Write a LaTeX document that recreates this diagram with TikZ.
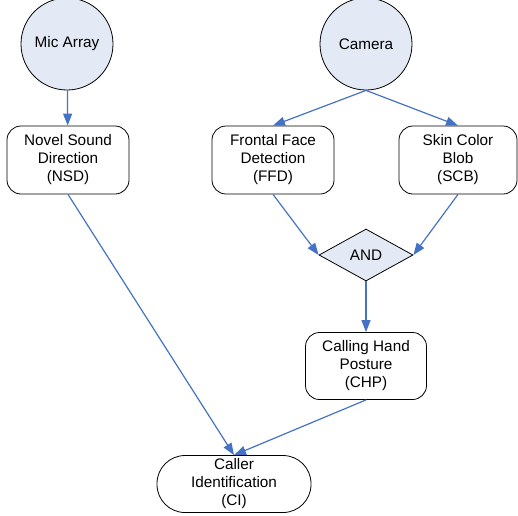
\documentclass[tikz,border=0pt]{standalone}
\usepackage{fontspec}
\setmainfont{Liberation Sans}
\usetikzlibrary{arrows.meta,shapes.geometric}
\definecolor{fillblue}{HTML}{E4EAF5}
\definecolor{arrowblue}{HTML}{4472C4}
\begin{document}
\begin{tikzpicture}[x=1pt,y=-1pt,font=\fontsize{15.3}{18}\selectfont,
  src/.style={circle,draw,fill=fillblue,minimum size=92pt,inner sep=0pt,line width=0.8pt},
  proc/.style={draw,rounded corners=14pt,minimum width=122pt,minimum height=68pt,align=center,inner sep=0pt,line width=0.8pt},
  gate/.style={diamond,draw,fill=fillblue,aspect=1.8,minimum width=94pt,minimum height=52pt,inner sep=0pt,line width=0.8pt},
  flow/.style={draw=arrowblue,line width=1.2pt,-{Triangle[length=12pt,width=9pt]}}]
\useasboundingbox (0,0) rectangle (518,515);
\node[src] (mic) at (67,44) {Mic Array};
\node[src] (cam) at (366,44) {Camera};
\node[proc] (nsd) at (68,160) {Novel Sound\\Direction\\(NSD)};
\node[proc] (ffd) at (273,160) {Frontal Face\\Detection\\(FFD)};
\node[proc,minimum width=118pt] (scb) at (458,160) {Skin Color\\Blob\\(SCB)};
\node[gate] (and) at (366,255) {AND};
\node[proc,minimum width=121pt,minimum height=67pt] (chp) at (366,366) {Calling Hand\\Posture\\(CHP)};
\node[proc,minimum width=154pt,minimum height=57pt,rounded corners=28pt] (ci) at (234,484) {Caller\\Identification\\(CI)};
\draw[flow] (mic) -- (nsd);
\draw[flow] (cam.south) -- (ffd.north);
\draw[flow] (cam.south) -- (scb.north);
\draw[flow] (ffd.south) -- (and.west);
\draw[flow] (scb.south) -- (and.east);
\draw[flow] (and.south) -- (chp.north);
\draw[flow] (nsd.south) -- (ci.north);
\draw[flow] (chp.south) -- (ci.north);
\end{tikzpicture}
\end{document}
